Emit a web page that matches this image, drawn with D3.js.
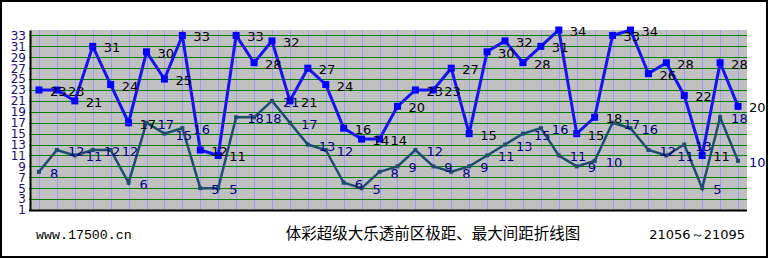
<!DOCTYPE html>
<html>
<head>
<meta charset="utf-8">
<script src="https://cdn.jsdelivr.net/npm/d3@7"></script>
<style>
body { margin: 0; background: #fff; }
svg { display: block; }
</style>
</head>
<body>
<div id="chart"></div>
<script>
// periods 21056 ~ 21095
let periods = d3.range(21056, 21096);
let maxGap = [23,23,21,31,24,17,30,25,33,12,11,33,28,32,21,27,24,16,14,14,20,23,23,27,15,30,32,28,31,34,15,18,33,34,26,28,22,11,28,20];
let spread = [8,12,11,12,12,6,17,15,16,5,5,18,18,21,17,13,12,6,5,8,9,12,9,8,9,11,13,15,16,11,9,10,17,16,12,11,13,5,18,10];
let yTicks = d3.range(1, 34, 2);

let width = 769, height = 259;
let plotL = 30, plotR = 747, plotT = 30, plotB = 210;

let svg = d3.select("#chart").append("svg")
  .attr("width", width)
  .attr("height", height);

svg.append("rect")
  .attr("x", 1).attr("y", 1)
  .attr("width", width - 3).attr("height", height - 3)
  .attr("fill", "#fff").attr("stroke", "#000").attr("stroke-width", 2);

let x = d3.scalePoint().domain(periods).range([plotL, plotR]).padding(0.5);
let y = d3.scaleLinear().domain([1, 34]).range([plotB, plotT]);

svg.append("rect")
  .attr("x", plotL).attr("y", plotT)
  .attr("width", plotR - plotL).attr("height", plotB - plotT)
  .attr("fill", "#c0c0c0");

// vertical grid
svg.append("g").selectAll("line")
  .data(periods)
  .enter().append("line")
  .attr("x1", d => Math.round(x(d)) + 0.5).attr("x2", d => Math.round(x(d)) + 0.5)
  .attr("y1", plotT).attr("y2", plotB)
  .attr("stroke", "#9a9aff").attr("stroke-width", 1);

// horizontal grid
svg.append("g").selectAll("line")
  .data(yTicks.filter(d => d > 1))
  .enter().append("line")
  .attr("x1", plotL - 1).attr("x2", plotR)
  .attr("y1", d => Math.round(y(d)) + 0.5).attr("y2", d => Math.round(y(d)) + 0.5)
  .attr("stroke", "#008000").attr("stroke-width", 1);

// axes
let yAxis = svg.append("g")
  .attr("transform", "translate(" + plotL + ",0)")
  .call(d3.axisLeft(y).tickValues(yTicks).tickSize(0).tickPadding(4));
yAxis.select(".domain").attr("stroke", "#000").attr("stroke-width", 2);
yAxis.selectAll("text")
  .attr("font-family", "DejaVu Sans, sans-serif")
  .attr("font-size", 12)
  .attr("fill", "#1a1070");

svg.append("line")
  .attr("x1", plotL - 1).attr("x2", plotR)
  .attr("y1", plotB + 0.5).attr("y2", plotB + 0.5)
  .attr("stroke", "#000").attr("stroke-width", 2);

let line = d3.line().x((d, i) => x(periods[i])).y(d => y(d));

// range series
svg.append("path")
  .datum(spread)
  .attr("d", line)
  .attr("fill", "none")
  .attr("stroke", "#1f4d72")
  .attr("stroke-width", 2.5);

svg.append("g").selectAll("rect")
  .data(spread)
  .enter().append("rect")
  .attr("x", (d, i) => x(periods[i]) - 2)
  .attr("y", d => y(d) - 2)
  .attr("width", 4).attr("height", 4)
  .attr("fill", "#1f4d72");

// max gap series
svg.append("path")
  .datum(maxGap)
  .attr("d", line)
  .attr("fill", "none")
  .attr("stroke", "#1414f0")
  .attr("stroke-width", 3);

svg.append("g").selectAll("rect")
  .data(maxGap)
  .enter().append("rect")
  .attr("x", (d, i) => x(periods[i]) - 3.5)
  .attr("y", d => y(d) - 3.5)
  .attr("width", 7).attr("height", 7)
  .attr("fill", "#0000ff");

// value labels
svg.append("g").selectAll("text")
  .data(spread)
  .enter().append("text")
  .attr("x", (d, i) => x(periods[i]) + 11)
  .attr("y", d => y(d) + 6)
  .attr("font-family", "DejaVu Sans, sans-serif")
  .attr("font-size", 13)
  .attr("fill", "#000080")
  .text(d => d);

svg.append("g").selectAll("text")
  .data(maxGap)
  .enter().append("text")
  .attr("x", (d, i) => x(periods[i]) + 11)
  .attr("y", d => y(d) + 6)
  .attr("font-family", "DejaVu Sans, sans-serif")
  .attr("font-size", 13)
  .attr("fill", "#000")
  .text(d => d);

// footer
svg.append("text")
  .attr("x", 36).attr("y", 239)
  .attr("font-family", "Liberation Mono, monospace")
  .attr("font-size", 13.3)
  .attr("fill", "#000")
  .text("www.17500.cn");

svg.append("text")
  .attr("x", 433).attr("y", 239)
  .attr("text-anchor", "middle")
  .attr("font-family", "Noto Sans CJK SC, sans-serif")
  .attr("font-size", 15.5)
  .attr("fill", "#000")
  .text("体彩超级大乐透前区极距、最大间距折线图");

svg.append("text")
  .attr("x", 745).attr("y", 239)
  .attr("text-anchor", "end")
  .attr("font-family", "DejaVu Sans, sans-serif")
  .attr("font-size", 13)
  .attr("fill", "#000")
  .text("21056～21095");
</script>
</body>
</html>
